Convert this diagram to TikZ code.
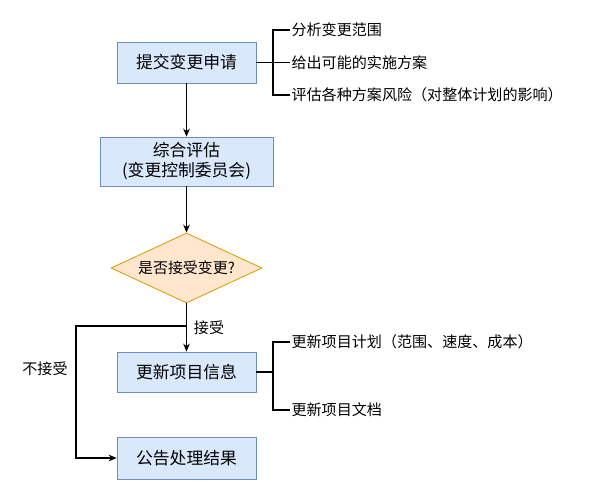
\documentclass[tikz,border=0pt]{standalone}
\usepackage{fontspec}
\setmainfont{Noto Sans CJK SC}
\usepackage{tikz}
\usetikzlibrary{shapes.geometric}
\usetikzlibrary{arrows.meta}
\definecolor{boxfill}{HTML}{DAE8FC}
\definecolor{boxline}{HTML}{6C8EBF}
\definecolor{askfill}{HTML}{FFE6CC}
\definecolor{askline}{HTML}{D79B00}
\tikzset{
  fcbox/.style={rectangle, draw=boxline, fill=boxfill, line width=0.6pt, align=center, inner sep=0pt, font=\fontsize{12.6}{15}\selectfont},
  fcask/.style={diamond, draw=askline, fill=askfill, line width=0.6pt, aspect=2.16, inner sep=0pt, font=\fontsize{11.2}{13}\selectfont},
  fctext/.style={inner sep=1pt, font=\fontsize{11.3}{13}\selectfont},
  fcline/.style={line width=0.9pt},
  fcarrow/.style={fcline, -{Stealth[length=6pt,width=5pt]}}
}
\newcommand{\fcstep}[5] {\node at (#1) (#2) [fcbox, minimum width=#4, minimum height=#5] {#3};}
\newcommand{\fcitem}[3] {\node at (#1) (#2) [fctext, anchor=west] {#3};}
\newcommand{\fcflow}[2] {\draw [fcarrow] (#1) -- (#2);}

\begin{document}
\begin{tikzpicture}[x=0.75pt, y=-0.75pt]
\useasboundingbox (0,0) rectangle (593,500);

\fcstep {186.5,62.5} {req} {提交变更申请} {104.25pt} {30.75pt};
\fcstep {186.5,161.5} {review} {综合评估\\(变更控制委员会)} {129.75pt} {36.75pt};
\node at (186.5,268) (ask) [fcask, minimum width=113.25pt, minimum height=52.5pt] {是否接受变更?};
\fcstep {186.5,372} {upd} {更新项目信息} {104.25pt} {30pt};
\fcstep {186.5,458} {done} {公告处理结果} {104.25pt} {31.5pt};

\fcitem {290,30} {reqa} {分析变更范围};
\fcitem {290,62.5} {reqb} {给出可能的实施方案};
\fcitem {290,95} {reqc} {评估各种方案风险（对整体计划的影响）};
\fcitem {290,342} {upda} {更新项目计划（范围、速度、成本）};
\fcitem {290,410} {updb} {更新项目文档};

\fcflow{req}{review};
\fcflow{review}{ask};
\fcflow{ask}{upd};

% not accepted
\coordinate (split) at (186.5,326);
\coordinate (corner) at (76,326);
\draw [fcarrow] (split) -- (corner) |- (done.west);
\node at (209,328) (yes) [fctext] {接受};
\node at (45,369) (no) [fctext] {不接受};

% brackets
\coordinate (reqfork) at (273,62.5);
\draw [fcline] (req.east) -- (reqb.west);
\draw [fcline] (reqa.west) -| (reqfork) |- (reqc.west);
\coordinate (updfork) at (273,372);
\draw [fcline] (upd.east) -- (updfork);
\draw [fcline] (upda.west) -| (updfork) |- (updb.west);
\end{tikzpicture}
\end{document}
